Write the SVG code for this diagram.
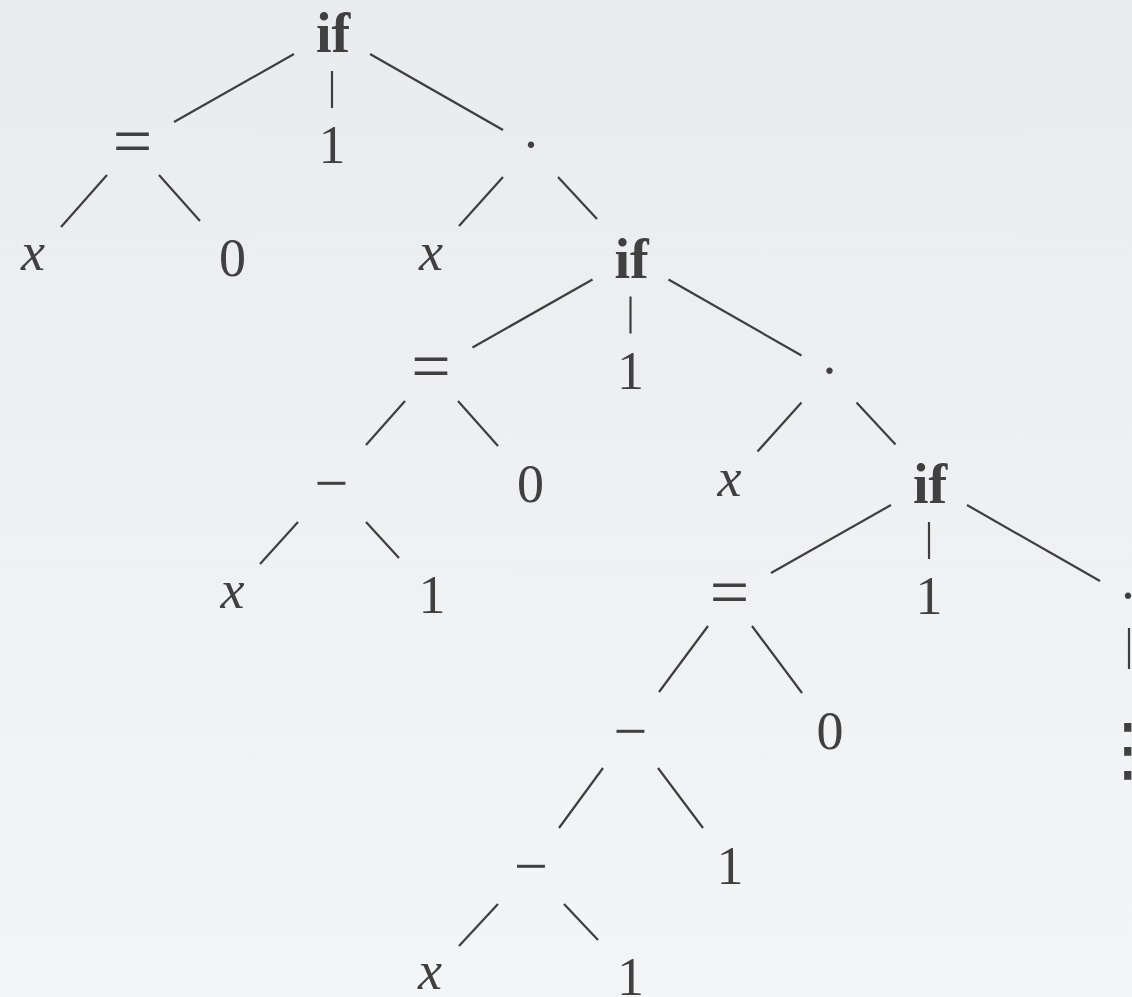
<svg xmlns="http://www.w3.org/2000/svg" width="1132" height="997" viewBox="0 0 1132 997">
<style>
.t{font-family:"Liberation Serif","Times New Roman",serif;font-size:54px;fill:#404040;text-anchor:middle}
.i{font-style:italic}
.b{font-weight:bold;font-size:56px}
.eq{font-size:70px}
.mi{font-size:60px}
.vd{font-family:"DejaVu Sans",sans-serif;font-size:70px;fill:#404040;text-anchor:middle}
.c line{stroke:#3e3e3e;stroke-width:2.2;stroke-linecap:butt}
</style>
<defs>
<linearGradient id="bg" x1="0" y1="0" x2="0" y2="1">
<stop offset="0" stop-color="#e9ebee"/>
<stop offset="1" stop-color="#f4f5f7"/>
</linearGradient>
</defs>
<rect width="1132" height="997" fill="url(#bg)"/>
<g class="c" id="connectors">
<line x1="294" y1="54" x2="174" y2="122"/>
<line x1="332" y1="71" x2="332" y2="108"/>
<line x1="370" y1="54" x2="503" y2="130"/>
<line x1="107" y1="175" x2="61" y2="227"/>
<line x1="159" y1="175" x2="200" y2="221"/>
<line x1="503" y1="177" x2="459" y2="226"/>
<line x1="558" y1="177" x2="597" y2="219"/>
<line x1="592.5" y1="279.5" x2="472.5" y2="347.5"/>
<line x1="630.5" y1="296.5" x2="630.5" y2="333.5"/>
<line x1="668.5" y1="279.5" x2="801.5" y2="355.5"/>
<line x1="801.5" y1="402.5" x2="757.5" y2="451.5"/>
<line x1="856.5" y1="402.5" x2="895.5" y2="444.5"/>
<line x1="405" y1="401" x2="366" y2="445"/>
<line x1="458" y1="401" x2="498" y2="446"/>
<line x1="298" y1="522" x2="260" y2="564"/>
<line x1="366" y1="522" x2="399" y2="558"/>
<line x1="891" y1="505" x2="771" y2="573"/>
<line x1="929" y1="522" x2="929" y2="559"/>
<line x1="967" y1="505" x2="1100" y2="581"/>
<line x1="1129" y1="628" x2="1129" y2="669"/>
<line x1="708" y1="626" x2="659" y2="692"/>
<line x1="752" y1="626" x2="802" y2="693"/>
<line x1="603" y1="768" x2="559" y2="828"/>
<line x1="658" y1="768" x2="703" y2="828"/>
<line x1="498" y1="904" x2="459" y2="946"/>
<line x1="564" y1="904" x2="598" y2="940"/>
</g>
<g id="if1"><text class="t b" x="333" y="52">if</text></g>
<g id="eq1"><text class="t eq" x="132.5" y="164.5">=</text></g>
<g id="one1"><text class="t" x="332" y="163">1</text></g>
<g id="dot1"><text class="t" x="531" y="163">·</text></g>
<g id="x1a"><text class="t i" x="33" y="270">x</text></g>
<g id="zero1"><text class="t" x="232.5" y="276">0</text></g>
<g id="x1b"><text class="t i" x="431" y="270">x</text></g>
<g id="if2"><text class="t b" x="631.5" y="277.5">if</text></g>
<g id="eq2"><text class="t eq" x="431" y="390">=</text></g>
<g id="one2"><text class="t" x="630.5" y="388.5">1</text></g>
<g id="dot2"><text class="t" x="829.5" y="389">·</text></g>
<g id="x2b"><text class="t i" x="729.5" y="495.5">x</text></g>
<g id="minus2a"><text class="t mi" x="331.5" y="503">−</text></g>
<g id="zero2"><text class="t" x="530.5" y="502">0</text></g>
<g id="x2a"><text class="t i" x="232.5" y="608">x</text></g>
<g id="one2a"><text class="t" x="432" y="613">1</text></g>
<g id="if3"><text class="t b" x="930" y="503">if</text></g>
<g id="eq3"><text class="t eq" x="729.5" y="615.5">=</text></g>
<g id="one3"><text class="t" x="929" y="614">1</text></g>
<g id="dot3"><text class="t" x="1128" y="614">·</text></g>
<g id="vdots3"><text class="vd" x="1128" y="773">⋮</text></g>
<g id="minus3a"><text class="t mi" x="630.5" y="751">−</text></g>
<g id="zero3"><text class="t" x="830" y="749">0</text></g>
<g id="minus3b"><text class="t mi" x="531" y="886">−</text></g>
<g id="one3a"><text class="t" x="730" y="884">1</text></g>
<g id="x3"><text class="t i" x="430" y="989">x</text></g>
<g id="one3b"><text class="t" x="630.5" y="995">1</text></g>
</svg>
